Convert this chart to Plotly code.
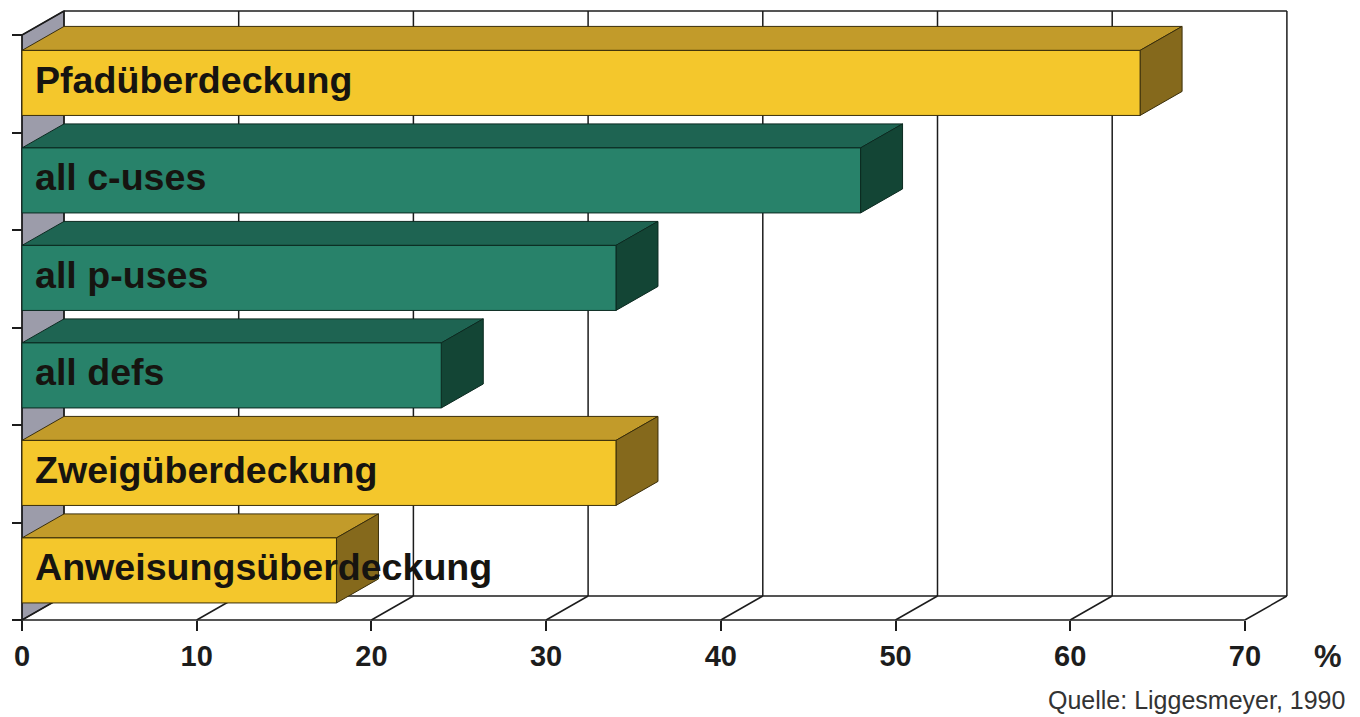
import plotly.graph_objects as go

# ---- data (bottom to top) ----
categories = ["Anweisungsüberdeckung", "Zweigüberdeckung", "all defs",
              "all p-uses", "all c-uses", "Pfadüberdeckung"]
values = [18, 34, 24, 34, 48, 64]
kinds = ["gold", "gold", "green", "green", "green", "gold"]
tick_values = [0, 10, 20, 30, 40, 50, 60, 70]
tick_labels = ["0", "10", "20", "30", "40", "50", "60", "70"]
unit_label = "%"
source_label = "Quelle: Liggesmeyer, 1990"

# ---- styling / projection ----
PX_X = 17.47      # px per % unit
PX_Y = 97.5       # px per category band
X0_PX, Y0_PX = 22, 620
W, H = 1360, 717
DX = 42 / PX_X    # depth offset (data units)
DY = 24 / PX_Y
BAR_LO, BAR_HI = 0.175, 0.842
XMAX = tick_values[-1]
NCAT = len(categories)

palette = {
    "gold": dict(front="#F4C72C", top="#C29B2A", side="#85691C", edge="#3A2E0A"),
    "green": dict(front="#28826A", top="#1E6452", side="#134535", edge="#0B2A20"),
}
FRAME = "#1c1c1c"
WALL = "#9C9CAA"
FONT = "Liberation Sans, Arial, sans-serif"

fig = go.Figure()


def poly(xs, ys, fill, edge, width=1.0):
    fig.add_trace(go.Scatter(x=xs + [xs[0]], y=ys + [ys[0]], mode="lines",
                             fill="toself", fillcolor=fill,
                             line=dict(color=edge, width=width),
                             hoverinfo="skip", showlegend=False))


def segs(pairs, color=FRAME, width=1.5):
    xs, ys = [], []
    for (a, b), (c, d) in pairs:
        xs += [a, c, None]
        ys += [b, d, None]
    fig.add_trace(go.Scatter(x=xs, y=ys, mode="lines",
                             line=dict(color=color, width=width),
                             hoverinfo="skip", showlegend=False))


# left (gray) wall
poly([0, DX, DX, 0], [0, DY, NCAT + DY, NCAT], WALL, FRAME, 1.2)

# frame: back wall verticals, floor diagonals, outline
lines = []
for v in tick_values:
    lines.append(((v + DX, DY), (v + DX, NCAT + DY)))
    lines.append(((v, 0), (v + DX, DY)))
lines.append(((DX, DY), (XMAX + DX, DY)))
lines.append(((DX, NCAT + DY), (XMAX + DX, NCAT + DY)))
lines.append(((0, 0), (XMAX, 0)))
lines.append(((0, 0), (0, NCAT)))
lines.append(((0, NCAT), (DX, NCAT + DY)))
segs(lines)

# bars (top to bottom)
for i in reversed(range(NCAT)):
    v = values[i]
    c = palette[kinds[i]]
    lo, hi = i + BAR_LO, i + BAR_HI
    # top face
    poly([0, v, v + DX, DX], [hi, hi, hi + DY, hi + DY], c["top"], c["edge"])
    # right face
    poly([v, v + DX, v + DX, v], [lo, lo + DY, hi + DY, hi], c["side"], c["edge"])
    # front face
    poly([0, v, v, 0], [lo, lo, hi, hi], c["front"], c["edge"])

annotations = []
for i, name in enumerate(categories):
    annotations.append(dict(x=11 / PX_X, y=i + (BAR_LO + BAR_HI) / 2 + 3 / PX_Y, text=name,
                            xanchor="left", yanchor="middle", showarrow=False,
                            font=dict(family=FONT, size=37.6, color="#161410", weight="bold")))
annotations.append(dict(x=(1328 - X0_PX) / PX_X, y=(Y0_PX - 656) / PX_Y, text=unit_label,
                        xanchor="center", yanchor="middle", showarrow=False,
                        font=dict(family=FONT, size=31, color="#222", weight="bold")))
annotations.append(dict(x=(1347 - X0_PX) / PX_X, y=(Y0_PX - 700) / PX_Y, text=source_label,
                        xanchor="right", yanchor="middle", showarrow=False,
                        font=dict(family=FONT, size=25, color="#333")))

xr = [-X0_PX / PX_X, (W - X0_PX) / PX_X]
yr = [(Y0_PX - H) / PX_Y, Y0_PX / PX_Y]

fig.update_layout(
    width=W, height=H, margin=dict(l=0, r=0, t=0, b=0),
    paper_bgcolor="white", plot_bgcolor="white",
    showlegend=False, hovermode=False,
    annotations=annotations,
    xaxis=dict(range=xr, anchor="free", position=(H - Y0_PX) / H,
               showgrid=False, zeroline=False, showline=False,
               tickmode="array", tickvals=tick_values, ticktext=tick_labels,
               ticks="outside", ticklen=10, tickwidth=1.5, tickcolor=FRAME,
               ticklabelstandoff=0,
               tickfont=dict(family=FONT, size=29, color="#1c1c1c", weight="bold"),
               fixedrange=True),
    yaxis=dict(range=yr, anchor="free", position=X0_PX / W,
               showgrid=False, zeroline=False, showline=False,
               tickmode="array", tickvals=list(range(NCAT + 1)),
               ticks="outside", ticklen=10, tickwidth=1.5, tickcolor=FRAME,
               showticklabels=False, fixedrange=True),
)

fig.write_html("out.html")
